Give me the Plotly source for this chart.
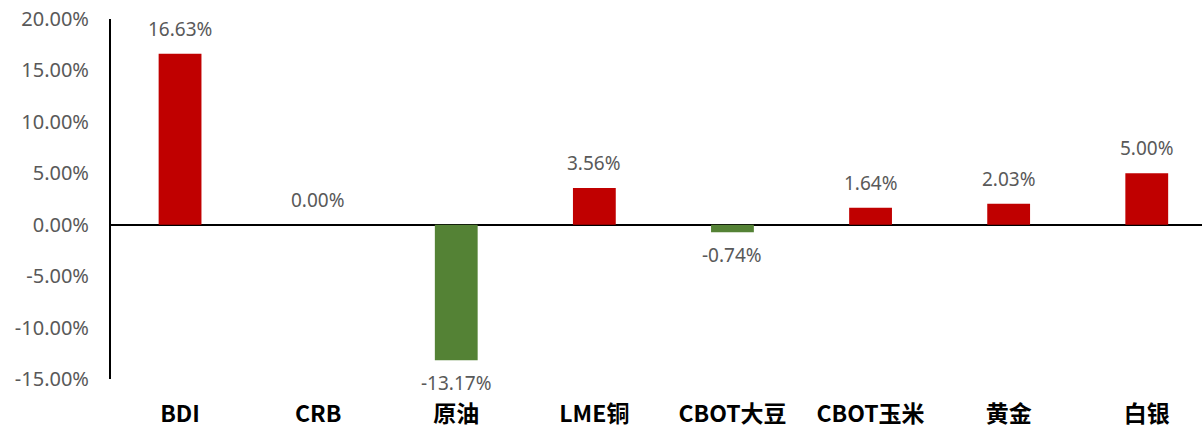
import plotly.graph_objects as go

categories = ["BDI", "CRB", "原油", "LME铜", "CBOT大豆", "CBOT玉米", "黄金", "白银"]
changes = [16.63, 0.00, -13.17, 3.56, -0.74, 1.64, 2.03, 5.00]
y_ticks = [20, 15, 10, 5, 0, -5, -10, -15]
y_tick_labels = ["%.2f%%" % v for v in y_ticks]

bar_colors = ["#C00000" if v >= 0 else "#548235" for v in changes]
label_font = dict(family="Noto Sans, Open Sans, sans-serif", size=19, color="#595959")
tick_font = dict(family="Noto Sans, Open Sans, sans-serif", size=20, color="#595959")

fig = go.Figure()

fig.add_trace(go.Bar(
    x=categories,
    y=changes,
    marker=dict(color=bar_colors, line=dict(width=0)),
    width=0.31,
    hoverinfo="x+y",
))

# data labels, pushed away from the bar ends like in excel
for cat, v in zip(categories, changes):
    fig.add_annotation(
        x=cat, y=v,
        text="%.2f%%" % v,
        showarrow=False,
        yanchor="bottom" if v >= 0 else "top",
        yshift=11 if v >= 0 else -9,
        borderpad=0,
        font=label_font,
    )

fig.update_layout(
    width=1202,
    height=429,
    plot_bgcolor="white",
    paper_bgcolor="white",
    showlegend=False,
    margin=dict(l=111, r=0, t=19, b=50, autoexpand=False),
    xaxis=dict(
        range=[-0.5, 7.4],
        showline=False,
        showgrid=False,
        ticks="",
        ticklabelstandoff=19,
        tickfont=dict(family="Noto Sans CJK SC, sans-serif", size=23, color="black", weight="bold"),
    ),
    yaxis=dict(
        range=[-15, 20],
        tickvals=y_ticks,
        ticktext=y_tick_labels,
        showline=True,
        linecolor="black",
        linewidth=2,
        showgrid=False,
        ticks="",
        ticklabelstandoff=16,
        zeroline=True,
        zerolinecolor="black",
        zerolinewidth=2,
        tickfont=tick_font,
    ),
)

fig.write_html("out.html", config={"displayModeBar": False},
               post_script="document.body.style.margin='0px';")
